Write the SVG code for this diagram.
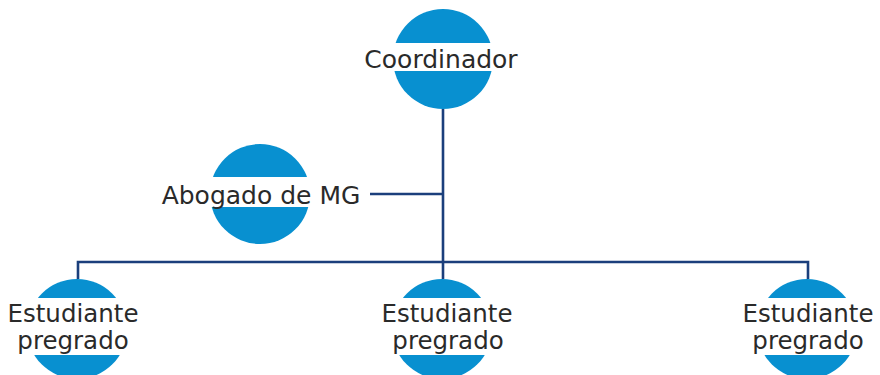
<svg xmlns="http://www.w3.org/2000/svg" width="880" height="375" viewBox="0 0 880 375">
<style>
.c{fill:#0890d0}
.b{fill:#ffffff}
.t{font-family:"DejaVu Sans",sans-serif;font-size:25px;fill:#2a2a2a;text-anchor:middle}
.s{font-size:24.5px}
.l{stroke:#1b3f7c;stroke-width:2.6;fill:none}
</style>
<rect width="880" height="375" fill="#ffffff"/>
<g id="connectors">
<path class="l" d="M443 109V263M370 194H443M78 279V262H808V279M443 262V279"/>
</g>
<g id="coordinador">
<circle class="c" cx="443" cy="59" r="50"/>
<rect class="b" x="390" y="43" width="106" height="28"/>
<text class="t" x="441" y="68">Coordinador</text>
</g>
<g id="abogado">
<circle class="c" cx="260" cy="194" r="50"/>
<rect class="b" x="207" y="177" width="106" height="30"/>
<text class="t" x="261" y="204">Abogado de MG</text>
</g>
<g id="estudiante1">
<circle class="c" cx="77" cy="329" r="50"/>
<rect class="b" x="24" y="298" width="106" height="57"/>
<text class="t s" x="73" y="322">Estudiante</text>
<text class="t s" x="73" y="349">pregrado</text>
</g>
<g id="estudiante2">
<circle class="c" cx="442" cy="329" r="50"/>
<rect class="b" x="389" y="298" width="106" height="57"/>
<text class="t s" x="447" y="322">Estudiante</text>
<text class="t s" x="448" y="349">pregrado</text>
</g>
<g id="estudiante3">
<circle class="c" cx="807" cy="329" r="50"/>
<rect class="b" x="754" y="298" width="106" height="57"/>
<text class="t s" x="808" y="322">Estudiante</text>
<text class="t s" x="808" y="349">pregrado</text>
</g>
</svg>
